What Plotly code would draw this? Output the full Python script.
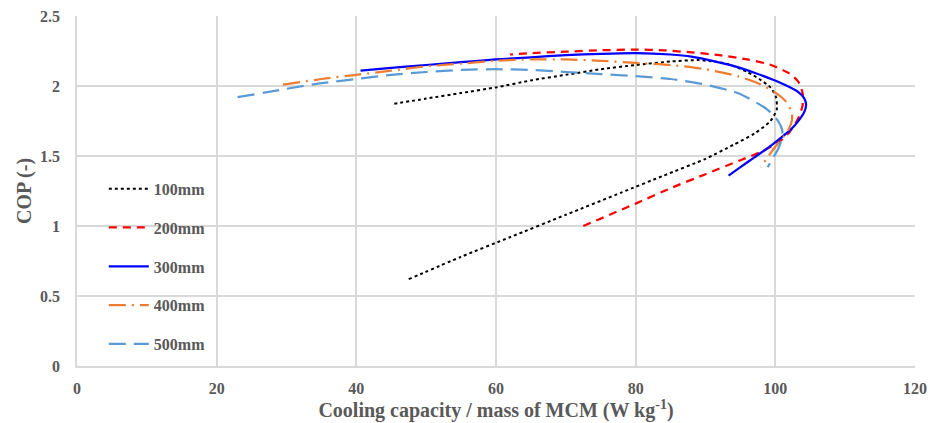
import plotly.graph_objects as go

# 100mm
x100 = [47.5, 55, 62, 70, 78, 84, 90, 94, 97, 99.3, 100.2, 100.1, 99.3, 98, 96, 93, 89, 85, 80, 75, 70, 65, 60, 55, 50, 45]
y100 = [0.62, 0.78, 0.92, 1.08, 1.24, 1.36, 1.48, 1.58, 1.66, 1.75, 1.83, 1.92, 1.99, 2.04, 2.10, 2.16, 2.185, 2.175, 2.15, 2.12, 2.08, 2.04, 1.99, 1.95, 1.91, 1.87]
# 200mm
x200 = [72.5, 80, 85, 90, 95, 98, 100.5, 102, 103.2, 103.9, 103.9, 103.3, 102, 99.4, 96, 92, 88, 84, 80, 75, 70, 65, 62]
y200 = [1.0, 1.16, 1.27, 1.37, 1.47, 1.53, 1.60, 1.67, 1.76, 1.86, 1.95, 2.03, 2.09, 2.15, 2.19, 2.22, 2.24, 2.255, 2.26, 2.255, 2.245, 2.235, 2.225]
# 300mm
x300 = [40.6, 45, 50, 55, 60, 65, 70, 75, 80, 85, 88, 91, 94.6, 97, 99.4, 101.5, 103.2, 104.1, 104.4, 104.2, 103.6, 102.8, 101.8, 100.3, 99, 97, 95, 93.3]
y300 = [2.11, 2.13, 2.15, 2.17, 2.19, 2.205, 2.22, 2.23, 2.235, 2.225, 2.21, 2.18, 2.135, 2.095, 2.05, 2.005, 1.96, 1.915, 1.87, 1.82, 1.77, 1.72, 1.67, 1.61, 1.56, 1.49, 1.42, 1.36]
# 400mm
x400 = [29.5, 35, 40, 45, 50, 55, 60, 65, 70, 75, 80, 85, 90, 94.6, 97.5, 99.8, 101.5, 102.3, 102.4, 101.9, 101.2, 99.6, 97.9]
y400 = [2.01, 2.05, 2.08, 2.11, 2.14, 2.16, 2.18, 2.19, 2.19, 2.18, 2.165, 2.15, 2.12, 2.07, 2.02, 1.96, 1.89, 1.82, 1.76, 1.69, 1.64, 1.54, 1.42]
# 500mm
x500 = [23, 30, 35, 40, 45, 50, 55, 60, 65, 70, 75, 80, 85, 90, 94.6, 97, 98.9, 100.4, 101, 100.9, 100.4, 99.6, 98.9]
y500 = [1.92, 1.98, 2.02, 2.05, 2.08, 2.10, 2.115, 2.12, 2.115, 2.10, 2.085, 2.07, 2.05, 2.01, 1.95, 1.89, 1.83, 1.75, 1.68, 1.62, 1.55, 1.48, 1.42]

names = ["100mm", "200mm", "300mm", "400mm", "500mm"]
xs = [x100, x200, x300, x400, x500]
ys = [y100, y200, y300, y400, y500]
colors = ["#000000", "#ff0000", "#0000ff", "#ed7d31", "#5b9bd5"]
dashes = ["dot", "8px,6px", "solid", "17px,6px,2px,6px", "17px,8px"]
widths = [2, 2.25, 2.25, 2.25, 2.25]

fig = go.Figure()
for i in range(5):
    fig.add_trace(go.Scatter(
        x=xs[i], y=ys[i], mode="lines", name=names[i], legendgroup=names[i],
        line=dict(color=colors[i], dash=dashes[i], width=widths[i], shape="spline", smoothing=0.6),
    ))

font_fam = "Liberation Serif"
gray = "#595959"
fig.update_layout(
    width=930, height=423,
    margin=dict(l=77, r=15, t=16, b=57),
    plot_bgcolor="white", paper_bgcolor="white",
    font=dict(family=font_fam, color=gray, size=16),
    showlegend=True,
    legend=dict(
        x=0.032, y=0.555, xanchor="left", yanchor="top",
        bgcolor="rgba(0,0,0,0)", tracegroupgap=15, itemwidth=40,
        font=dict(family=font_fam, size=16, color=gray, weight="bold"),
    ),
    xaxis=dict(
        range=[0, 120], dtick=20, showgrid=True, gridcolor="#d9d9d9", gridwidth=1.5,
        zeroline=False, showline=True, linecolor="#d9d9d9", linewidth=1.5, mirror=False,
        ticks="", ticklabelstandoff=7, automargin=False,
        tickfont=dict(family=font_fam, size=16, color=gray, weight="bold"),
        title=dict(text="Cooling capacity / mass of MCM (W kg<sup>-1</sup>)",
                   font=dict(family=font_fam, size=20, color=gray, weight="bold"), standoff=5),
    ),
    yaxis=dict(
        range=[0, 2.5], dtick=0.5, showgrid=True, gridcolor="#d9d9d9", gridwidth=1.5,
        zeroline=False, showline=True, linecolor="#d9d9d9", linewidth=1.5,
        ticks="", ticklabelstandoff=12, automargin=False,
        tickfont=dict(family=font_fam, size=16, color=gray, weight="bold"),
        title=dict(text="COP (-)", font=dict(family=font_fam, size=20, color=gray, weight="bold"), standoff=3),
    ),
)
fig.write_html("out.html")
